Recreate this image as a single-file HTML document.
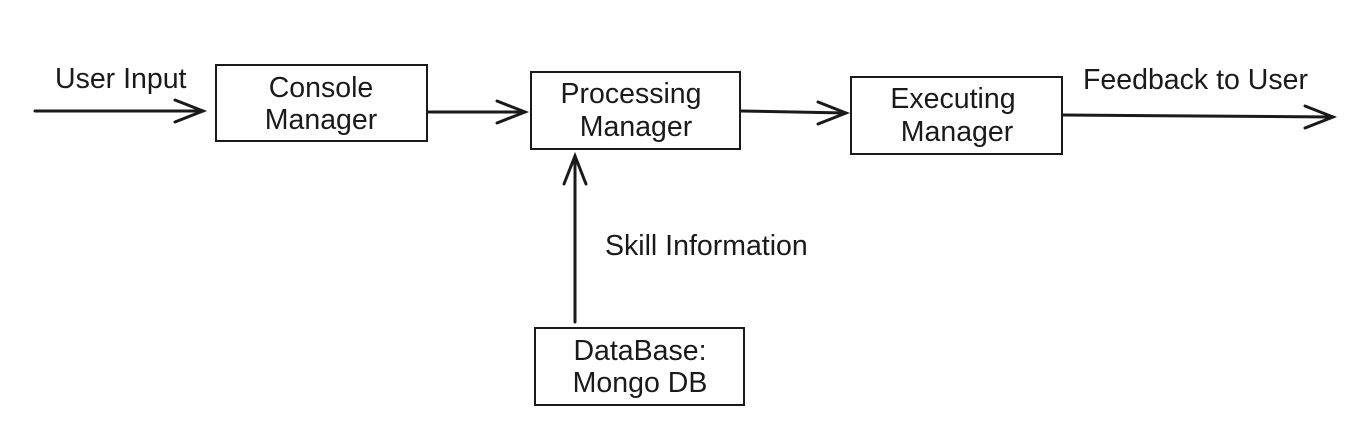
<!DOCTYPE html>
<html><head><style>html,body{margin:0;padding:0;background:#fff;width:1357px;height:438px;overflow:hidden}</style></head>
<body>
<svg width="1357" height="438" xmlns="http://www.w3.org/2000/svg" font-family="Liberation Sans, sans-serif" font-size="28.5" fill="#1a1a1a">
<g stroke="#1a1a1a" fill="none" stroke-width="2">
<rect x="216" y="65" width="211" height="76"/>
<rect x="531" y="72" width="209" height="77"/>
<rect x="851" y="77" width="211" height="77"/>
<rect x="535" y="328" width="209" height="77"/>
</g>
<g stroke="#1a1a1a" fill="none" stroke-width="3" stroke-linecap="round">
<line x1="35" y1="111" x2="203" y2="111"/>
<polyline points="175,100 203,111 175,122"/>
<line x1="428" y1="112" x2="525" y2="112"/>
<polyline points="497,101 525,112 497,123"/>
<line x1="741" y1="111" x2="846" y2="113"/>
<polyline points="818,102 846,113 818,124"/>
<line x1="1063" y1="115" x2="1333" y2="117"/>
<polyline points="1305,106 1333,117 1305,128"/>
<line x1="575" y1="322" x2="575" y2="156"/>
<polyline points="564,184 575,156 586,184"/>
</g>
<g stroke="none">
<text x="55" y="88">User Input</text>
<text x="321" y="97" text-anchor="middle">Console</text>
<text x="321" y="129" text-anchor="middle">Manager</text>
<text x="631" y="103" text-anchor="middle">Processing</text>
<text x="636" y="136" text-anchor="middle">Manager</text>
<text x="953" y="108" text-anchor="middle">Executing</text>
<text x="957" y="141" text-anchor="middle">Manager</text>
<text x="1083" y="89">Feedback to User</text>
<text x="605" y="255">Skill Information</text>
<text x="640" y="360" text-anchor="middle">DataBase:</text>
<text x="640" y="392" text-anchor="middle">Mongo DB</text>
</g>
</svg>
</body></html>
